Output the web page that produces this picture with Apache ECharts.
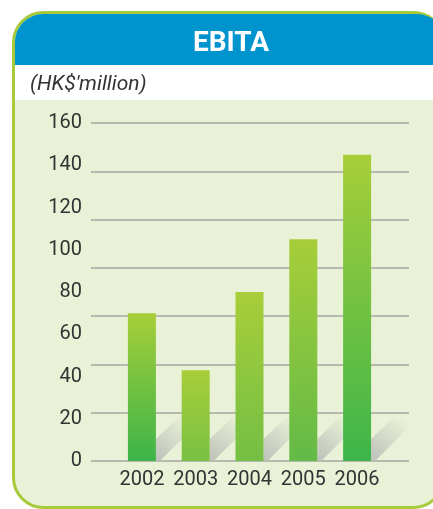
<!DOCTYPE html>
<html>
<head>
<meta charset="utf-8">
<script src="https://cdn.jsdelivr.net/npm/echarts@6/dist/echarts.min.js"></script>
<style>
  html, body { margin: 0; padding: 0; background: #ffffff; }
  #chart { width: 433px; height: 509px; }
</style>
</head>
<body>
<div id="chart"></div>
<script>
// data
const years = ['2002', '2003', '2004', '2005', '2006'];
const ebita = [70, 43, 80, 105, 145];
const yTicks = [0, 20, 40, 60, 80, 100, 120, 140, 160];
// the drawn rules do not sit on the tick labels: 8 lines spread over the same height
const ruleTicks = [0, 20, 40, 60, 80, 100, 120, 140];

// bar bottom colours (top is always the same yellow-green)
const barBottom = ['#3cb44a', '#79c043', '#74bf44', '#63ba47', '#3db54a'];

const chart = echarts.init(document.getElementById('chart'), null, { renderer: 'canvas' });

const panel = '#e9f2d6';
const labelFont = 'Roboto, "DejaVu Sans", sans-serif';

let option = {
    animation: false,
    backgroundColor: '#ffffff',
    graphic: [
        // card
        {
            type: 'rect', z: -10, silent: true,
            shape: { x: 13.5, y: 12.5, width: 430, height: 495, r: 30 },
            style: { fill: panel, stroke: '#a6ca3a', lineWidth: 3 }
        },
        // white band under header
        {
            type: 'rect', z: -9, silent: true,
            shape: { x: 15, y: 64, width: 430, height: 36 },
            style: { fill: '#ffffff' }
        },
        // blue header
        {
            type: 'rect', z: -8, silent: true,
            shape: { x: 15, y: 14, width: 430, height: 51, r: [28, 28, 0, 0] },
            style: { fill: '#0094cf' }
        },
        {
            type: 'text', z: -7, silent: true,
            x: 231, y: 44,
            style: {
                text: 'EBITA', align: 'center', verticalAlign: 'middle',
                fill: '#ffffff', font: 'bold 28px Roboto, "Open Sans", sans-serif'
            }
        },
        {
            type: 'text', z: -7, silent: true,
            x: 30, y: 85,
            style: {
                text: "(HK$'million)", align: 'left', verticalAlign: 'middle',
                fill: '#333333', font: 'italic 21px Roboto, "DejaVu Sans", sans-serif'
            }
        }
    ],
    grid: [
        // rules
        { left: 91, right: 24, top: 123, bottom: 48 },
        // bars
        { left: 115, right: 49, top: 123, bottom: 48 }
    ],
    xAxis: [
        {
            gridIndex: 1,
            type: 'category',
            data: years,
            axisLine: { show: false },
            axisTick: { show: false },
            axisLabel: {
                interval: 0,
                color: '#333333',
                fontSize: 20,
                fontFamily: labelFont,
                margin: 9
            }
        },
        {
            gridIndex: 0,
            type: 'value',
            show: false
        }
    ],
    yAxis: [
        {
            gridIndex: 1,
            type: 'value',
            min: yTicks[0],
            max: yTicks[yTicks.length - 1],
            interval: yTicks[1] - yTicks[0],
            axisLine: { show: false },
            axisTick: { show: false },
            splitLine: { show: false },
            axisLabel: {
                color: '#333333',
                fontSize: 20,
                fontFamily: labelFont,
                margin: 33
            }
        },
        {
            gridIndex: 0,
            type: 'value',
            min: ruleTicks[0],
            max: ruleTicks[ruleTicks.length - 1],
            interval: ruleTicks[1] - ruleTicks[0],
            axisLine: { show: false },
            axisTick: { show: false },
            axisLabel: { show: false },
            splitLine: {
                lineStyle: { color: '#a4a69f', width: 1.5 }
            }
        }
    ],
    series: [
        // diagonal shadows behind each bar
        {
            type: 'custom',
            xAxisIndex: 0,
            yAxisIndex: 0,
            z: 1,
            silent: true,
            data: ebita.map((v, i) => [i, 0]),
            renderItem: (params, api) => {
                const base = api.coord([api.value(0), 0]);
                const r = base[0] + 14;
                const b = base[1];
                return {
                    type: 'polygon',
                    shape: {
                        points: [[r, b], [r, b - 22], [r + 25, b - 46], [r + 38, b - 34], [r + 4, b]]
                    },
                    style: {
                        fill: new echarts.graphic.LinearGradient(r, b, r + 34, b - 40, [
                            { offset: 0, color: 'rgba(190,192,186,1)' },
                            { offset: 1, color: 'rgba(190,192,186,0)' }
                        ], true)
                    }
                };
            }
        },
        {
            type: 'bar',
            xAxisIndex: 0,
            yAxisIndex: 0,
            z: 3,
            barWidth: 28,
            data: ebita.map((v, i) => ({
                value: v,
                itemStyle: {
                    color: new echarts.graphic.LinearGradient(0, 0, 0, 1, [
                        { offset: 0, color: '#a7ce39' },
                        { offset: 1, color: barBottom[i] }
                    ])
                }
            }))
        }
    ]
};

option && chart.setOption(option);
</script>
</body>
</html>
